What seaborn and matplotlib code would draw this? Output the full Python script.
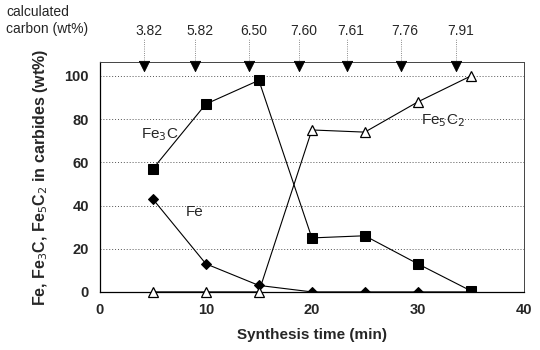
import pandas as pd
import seaborn as sns
import matplotlib.pyplot as plt

# synthesis time (min)
time_min = [5, 10, 15, 20, 25, 30, 35]
fe3c = [57, 87, 98, 25, 26, 13, 0.5]
fe = [43, 13, 3, 0, 0, 0, 0]
fe5c2 = [0, 0, 0, 75, 74, 88, 100]

# calculated carbon labels, with arrow positions on the time axis
carbon_labels = ['3.82', '5.82', '6.50', '7.60', '7.61', '7.76', '7.91']
arrow_x = [4.2, 9.0, 14.1, 18.8, 23.3, 28.4, 33.6]

sns.set_style('white')
plt.rcParams['font.family'] = ['Liberation Sans', 'DejaVu Sans']

fig = plt.figure(figsize=(5.4, 3.5), dpi=100)
ax = fig.add_axes([0.185, 0.166, 0.785, 0.657])

df = pd.DataFrame({'t': time_min, 'fe3c': fe3c, 'fe': fe, 'fe5c2': fe5c2})

sns.lineplot(data=df, x='t', y='fe3c', ax=ax, color='black', lw=0.8,
             marker='s', markersize=7, markerfacecolor='black',
             markeredgecolor='black', zorder=3)
sns.lineplot(data=df, x='t', y='fe', ax=ax, color='black', lw=0.8,
             marker='D', markersize=5.5, markerfacecolor='black',
             markeredgecolor='black', zorder=3)
sns.lineplot(data=df, x='t', y='fe5c2', ax=ax, color='black', lw=0.8,
             marker='^', markersize=7, markerfacecolor='white',
             markeredgecolor='black', markeredgewidth=0.9, zorder=3,
             clip_on=False)

ax.set_xlim(0, 40)
ax.set_ylim(0, 106.5)
ax.set_xticks([0, 10, 20, 30, 40])
ax.set_yticks([0, 20, 40, 60, 80, 100])
for lbl in ax.get_xticklabels() + ax.get_yticklabels():
    lbl.set_fontweight('bold')
ax.tick_params(labelsize=10.5, length=0, pad=8)

for y in [20, 40, 60, 80, 100]:
    ax.axhline(y, color='#555555', lw=0.7, ls=(0, (1, 2)), zorder=1)

for side in ['left', 'bottom']:
    ax.spines[side].set_color('black')
    ax.spines[side].set_linewidth(0.9)
for side in ['top', 'right']:
    ax.spines[side].set_color('#444444')
    ax.spines[side].set_linewidth(0.7)
    ax.spines[side].set_linestyle((0, (2, 1)))

ax.set_xlabel('Synthesis time (min)', fontsize=11, fontweight='bold', labelpad=8)
ax.set_ylabel('Fe, Fe$_3$C, Fe$_5$C$_2$ in carbides (wt%)', fontsize=11.5,
              fontweight='bold', labelpad=10)

# arrows and calculated carbon labels
arrows = pd.DataFrame({'x': arrow_x, 'y': [104.5] * len(arrow_x)})
sns.scatterplot(data=arrows, x='x', y='y', ax=ax, marker='v', s=55,
                color='black', edgecolor='black', clip_on=False, zorder=4)
for x, lab in zip(arrow_x, carbon_labels):
    ax.plot([x, x], [107.5, 117.5], color='#666666', lw=0.6, ls=':',
            clip_on=False)
    ax.text(x + 0.4, 121, lab, ha='center', va='center', fontsize=10)

fig.text(0.012, 0.966, 'calculated', fontsize=10, va='center')
fig.text(0.012, 0.918, 'carbon (wt%)', fontsize=10, va='center')

ax.text(3.9, 73, 'Fe$_3$C', fontsize=11, va='center')
ax.text(8.1, 37, 'Fe', fontsize=11, va='center')
ax.text(30.3, 79.5, 'Fe$_5$C$_2$', fontsize=11, va='center')

fig.savefig('out.png', dpi=100)
